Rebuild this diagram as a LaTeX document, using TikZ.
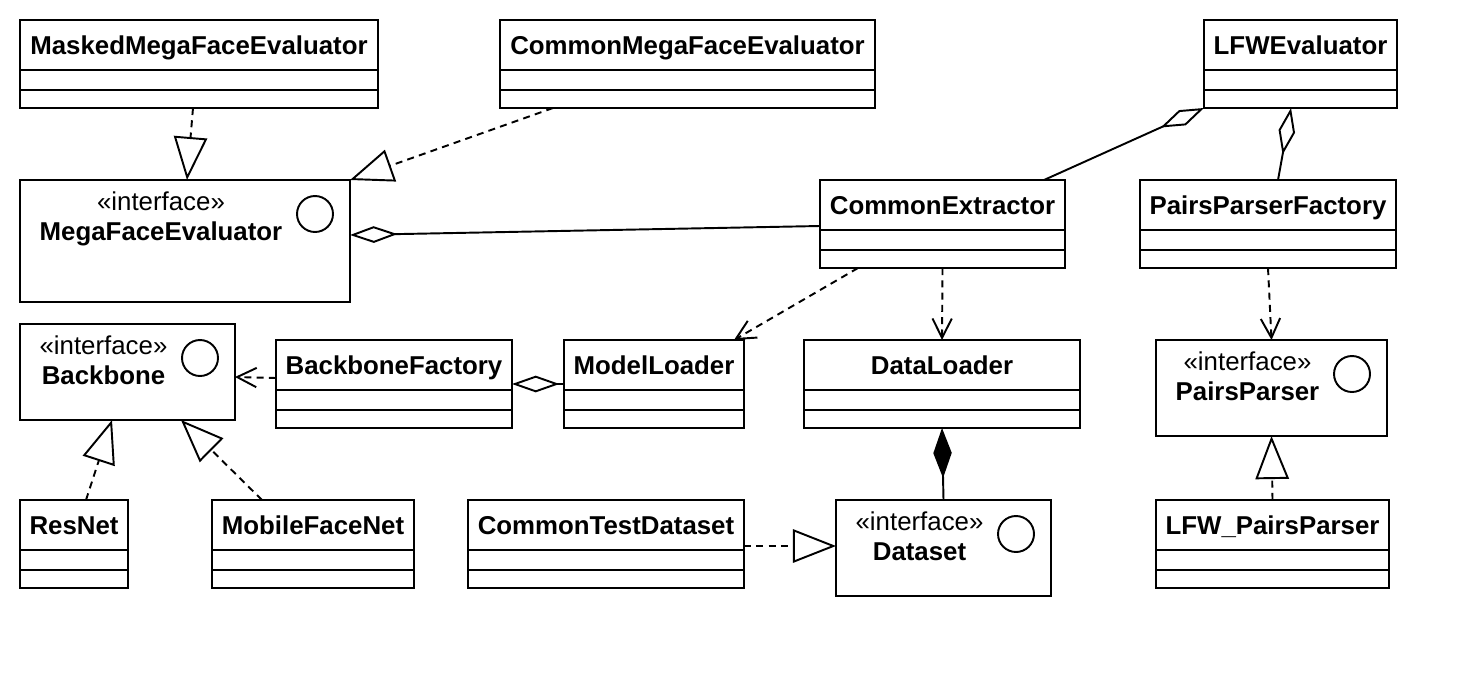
\documentclass[tikz,border=0pt]{standalone}
\usepackage{fontspec}
\setmainfont{Liberation Sans}
\usepackage{tikz}
\usetikzlibrary{arrows.meta, calc}

\newcommand{\umlfont}{\fontsize{14.7pt}{17pt}\selectfont}

\begin{document}
\begin{tikzpicture}[x=0.02cm, y=-0.02cm, line width=1.1pt,
    classbox/.style={draw, inner sep=0pt, outer sep=0pt},
    classname/.style={font=\umlfont\bfseries, anchor=base, inner sep=0pt},
    stereo/.style={font=\umlfont, anchor=base, inner sep=0pt},
    iconcircle/.style={draw, circle, minimum size=0.72cm, inner sep=0pt},
    realize/.style={dash pattern=on 4pt off 3pt, -{Triangle[open, length=24.5pt, width=19pt]}},
    depend/.style={dash pattern=on 4pt off 3pt, -{Straight Barb[length=11pt, width=11pt]}},
    aggr/.style={-{Diamond[open, length=27pt, width=9.5pt]}},
    compose/.style={-{Diamond[length=28.5pt, width=10.5pt]}}]
    \useasboundingbox (0,0) rectangle (1476,676);
    % classes: name / left / top / right / bottom / text
    \foreach \n/\a/\b/\c/\d/\t in {masked/20/20/378/108/MaskedMegaFaceEvaluator,
        cmfe/500/20/875/108/CommonMegaFaceEvaluator,
        lfweval/1204/20/1397/108/LFWEvaluator,
        extractor/820/180/1065/268/CommonExtractor,
        ppfactory/1140/180/1396/268/PairsParserFactory,
        bbfactory/276/340/512/428/BackboneFactory,
        modelloader/564/340/744/428/ModelLoader,
        dataloader/804/340/1080/428/DataLoader,
        resnet/20/500/128/588/ResNet,
        mobilefacenet/212/500/414/588/MobileFaceNet,
        testdataset/468/500/744/588/CommonTestDataset,
        lfwparser/1156/500/1389/588/LFW\_PairsParser} {
        \node[classbox, minimum width={(\c-\a)*0.02cm}, minimum height={(\d-\b)*0.02cm}]
            (\n) at ({(\a+\c)/2},{(\b+\d)/2}) {};
        \node[classname] (\n-name) at ({(\a+\c)/2},\b+34) {\t};
        \draw (\a,\b+50) -- (\c,\b+50) (\a,\b+70) -- (\c,\b+70);
    }
    % interfaces: name / left / top / right / bottom / text x / text
    \foreach \n/\a/\b/\c/\d/\tx/\t in {mfe/20/180/350/302/161/MegaFaceEvaluator,
        backbone/20/324/235/420/103.5/Backbone,
        pairsparser/1156/340/1387/436/1247.5/PairsParser,
        dataset/836/500/1051/596/919.5/Dataset} {
        \node[classbox, minimum width={(\c-\a)*0.02cm}, minimum height={(\d-\b)*0.02cm}]
            (\n) at ({(\a+\c)/2},{(\b+\d)/2}) {};
        \node[stereo] (\n-stereo) at (\tx,\b+30) {«interface»};
        \node[classname] (\n-name) at (\tx,\b+60) {\t};
        \node[iconcircle] (\n-icon) at (\c-35,\b+34) {};
    }

    \draw[realize] ($(masked.south)+(-6,0)$) -- ($(mfe.north)+(2,0)$);
    \draw[realize] ($(cmfe.south west)+(53,0)$) -- (mfe.north east);
    \draw[aggr] ($(extractor.west)+(0,2)$) -- ($(mfe.east)+(0,-6)$);
    \draw[aggr] ($(extractor.north east)+(-21,0)$) -- (lfweval.south west);
    \draw[aggr] ($(ppfactory.north)+(10,0)$) -- ($(lfweval.south)+(-9.5,0)$);
    \draw[depend] (ppfactory.south) -- (pairsparser.north);
    \draw[depend] (extractor.south) -- (dataloader.north);
    \draw[depend] ($(extractor.south west)+(38,0)$) -- ($(modelloader.north east)+(-10,0)$);
    \draw[aggr] (modelloader.west) -- (bbfactory.east);
    \draw[depend] ($(bbfactory.west)+(0,-6)$) -- ($(backbone.east)+(0,5)$);
    \draw[realize] ($(resnet.north)+(12,0)$) -- ($(backbone.south)+(-15.5,0)$);
    \draw[realize] ($(mobilefacenet.north west)+(50,0)$) -- ($(backbone.south east)+(-54,0)$);
    \draw[realize] ($(testdataset.east)+(0,2)$) -- ($(dataset.west)+(0,-2)$);
    \draw[compose] (dataset.north) -- (dataloader.south);
    \draw[realize] (lfwparser.north) -- (pairsparser.south);
\end{tikzpicture}
\end{document}
